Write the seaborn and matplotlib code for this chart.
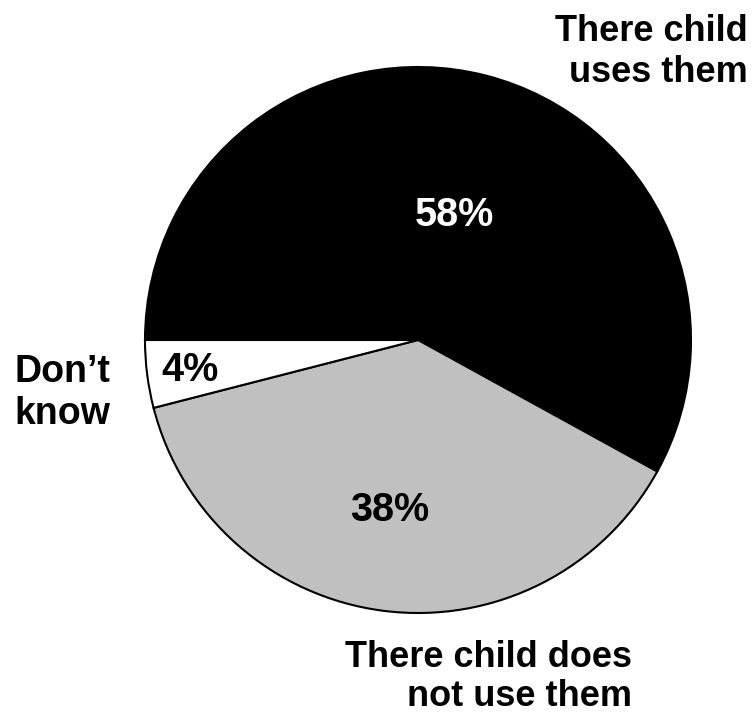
import matplotlib
matplotlib.use("Agg")
import matplotlib.pyplot as plt
import seaborn as sns

categories = ["There child\nuses them", "There child does\nnot use them", "Don’t\nknow"]
values = [58, 38, 4]
pct_labels = ["58%", "38%", "4%"]
colors = ["#000000", "#c0c0c0", "#ffffff"]

sns.set_theme(style="white")
plt.rcParams["font.family"] = ["Liberation Sans", "DejaVu Sans"]
plt.rcParams["text.color"] = "black"

W, H = 754, 715
fig = plt.figure(figsize=(W / 100, H / 100), dpi=100)
ax = fig.add_axes([0, 0, 1, 1])

cx, cy, r = 418, H - 340, 273
ax.pie(values, colors=colors, startangle=180, counterclock=False,
       center=(cx, cy), radius=r,
       wedgeprops=dict(edgecolor="black", linewidth=1.5))
ax.set_xlim(0, W)
ax.set_ylim(0, H)
ax.set_aspect("equal")
ax.axis("off")

def T(x, y, s, fs=26, **kw):
    ax.text(x, H - y, s, fontsize=fs, fontweight="bold", **kw)

T(748, 52, categories[0], ha="right", va="center", multialignment="right", linespacing=1.2)
T(632, 677, categories[1], ha="right", va="center", multialignment="right", linespacing=1.15)
T(62, 393, categories[2], fs=27, ha="center", va="center", multialignment="left", linespacing=1.2)
T(454, 215, pct_labels[0], fs=28.5, ha="center", va="center", color="white")
T(390, 510, pct_labels[1], fs=28.5, ha="center", va="center", color="black")
T(190, 370, pct_labels[2], fs=28.5, ha="center", va="center", color="black")

fig.savefig("out.png", dpi=100)
